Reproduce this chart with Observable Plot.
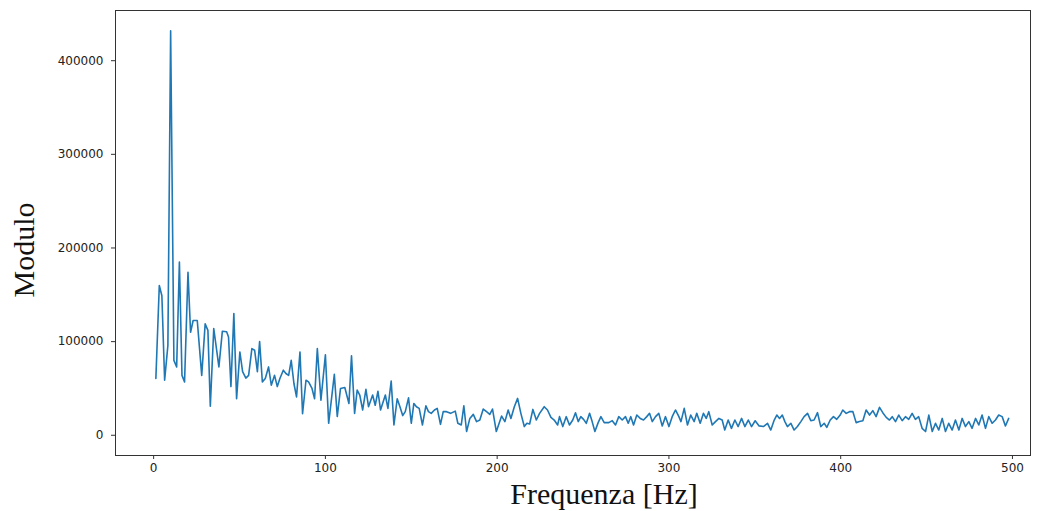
<!DOCTYPE html>
<html>
<head>
<meta charset="utf-8">
<script src="https://cdn.jsdelivr.net/npm/d3@7"></script>
<script src="https://cdn.jsdelivr.net/npm/@observablehq/plot@0.6"></script>
<style>
  html, body { margin: 0; padding: 0; background: #fff; }
  #chart svg { display: block; }
</style>
</head>
<body>
<div id="chart"></div>
<script>
const freq = [1.3,3.3,4.8,6.4,8.3,9.9,11.8,13.4,15,16.5,18,20,21.5,23,25.4,28,30,31.6,33,35,38,40,42.5,43.6,45,46.7,48.3,50.2,51.8,53.7,55.3,57.2,58.8,60.4,61.7,63.3,65,66.9,68.5,70.4,72,73.5,75.5,77,78.6,80.1,81.7,83.2,85.2,86.7,88.7,90.2,92.2,93.7,95.3,97.4,100,101.9,105.2,106.9,108.8,111.3,113.7,115.2,117,118.5,120,121.7,123.6,125.1,127.5,129,130.6,132.1,134.9,136.4,138.3,139.9,141.8,143.4,145,146.5,148.4,150,151.5,153,154.6,156.5,158.5,160,161.6,163.5,165.1,167,168.6,170.5,172.9,175.6,177.1,179.1,180.6,182.2,184.1,186.1,188,189.9,191.9,193.8,195.7,197.3,199.5,202.6,204.5,206.4,208,210,211.9,213.8,215.8,217.3,218.9,220.8,222.8,224.7,227.4,229.3,231.3,233.2,235.2,236.3,238.2,240.2,242.1,244,245.6,247.2,248.7,250.3,251.9,253.8,255.3,256.9,258.8,260.4,262.3,265,267,268.9,270.8,272.8,274.7,276.3,277.8,279.4,281.3,283.3,285.2,287.1,288.7,290.3,292.2,294.1,296.1,298,300,301.9,303.8,305.8,307,308.9,310.8,312.7,314.7,316.2,318.2,320.1,321.7,323.2,325.2,327.1,329.1,331,332.5,334.5,336.4,338.4,340.3,342.3,344.2,346.2,348.1,350.2,352.5,355,357.4,359.3,361.3,362.8,364.4,366,367.5,369,371,372.9,374.8,376.8,378.7,380.7,382.6,384.5,386.5,388.4,390.4,391.9,393.9,395.8,397.7,399.7,401.2,403.2,405.1,407.1,409,410.9,412.9,414.8,416.8,418.7,420.6,422.6,424.5,426.5,428.4,430,431.9,433.8,435.8,437.7,439.6,441.6,443.5,445.4,447.4,449.4,451.3,453.3,455.2,457.1,459.1,461,462.9,464.9,466.8,468.8,470.7,472.6,474.6,476.5,478.5,480.4,482.3,484.3,486.2,488.2,490.1,492,494,495.9,497.8];
const modulo = [60600,160000,149000,58800,96000,432000,80000,73000,185000,64000,57000,174000,110000,122600,122600,64000,119000,112000,31000,114000,73000,111000,110500,105000,52000,130000,39000,89000,68000,61000,64000,92500,90800,68000,100000,57000,60600,73000,53500,64000,52000,60600,69500,66000,64000,80000,55000,41000,89000,23000,58800,57000,50000,39000,92500,37500,86000,12800,65000,20000,50000,51000,34000,84800,23400,48200,43000,27000,49000,30500,43000,32000,47000,27000,43000,28700,57800,11000,39000,30500,21000,25200,40000,12800,34000,30500,28700,11000,31500,25200,23400,27000,28700,11700,25200,25200,23400,25800,12800,11000,31500,4000,18000,22300,14600,16300,28000,25200,22300,28000,4000,20500,14600,27000,18000,30500,39400,23400,9300,12800,12000,27600,16300,23400,30500,27000,19100,16300,11000,19900,9300,19900,11000,16300,24100,14600,19900,17000,12800,23400,14600,4000,13500,19900,13500,13500,15600,11000,19900,16300,19900,12800,19900,11000,21600,18000,16300,19900,23400,14600,19900,23400,9900,19900,9300,19900,27000,19900,14600,28700,11000,21600,14600,23400,12800,23400,18000,25200,11000,14600,18000,16300,5600,16300,7400,16300,9300,18000,9300,16300,9300,15500,10000,9300,12800,5600,16300,21600,18000,21600,14600,9300,12800,5600,9300,14600,19900,23400,15600,16300,24100,9300,12800,8500,16300,19900,17000,21600,27000,23400,25200,25200,13500,14600,15600,27000,21600,26300,19900,29800,24100,19100,16300,19900,14600,21600,15600,19900,17000,23400,17000,19900,7400,4000,21600,4000,12800,5600,18000,4000,12800,5600,16300,5600,18000,9300,14600,7400,18000,11000,21600,7400,19900,12800,16300,21600,19900,9900,18000];
const xTicks = [0, 100, 200, 300, 400, 500];
const yTicks = [0, 100000, 200000, 300000, 400000];
const xLabel = "Frequenza [Hz]";
const yLabel = "Modulo";

const data = freq.map((f, i) => ({f, m: modulo[i]}));

const chart = Plot.plot({
  width: 1043,
  height: 511,
  marginLeft: 115,
  marginRight: 13,
  marginTop: 10,
  marginBottom: 56,
  style: {fontFamily: "DejaVu Sans", fontSize: "12px", color: "#222", background: "#fff"},
  x: {domain: [-22.2, 510.5]},
  y: {domain: [-21600, 453600]},
  marks: [
    Plot.axisX({ticks: xTicks, tickFormat: d => String(d), tickSize: 4, tickPadding: 4, label: null, stroke: "#333", fontSize: 12}),
    Plot.axisY({ticks: yTicks, tickFormat: d => String(d), tickSize: 4, tickPadding: 8, label: null, stroke: "#333", fontSize: 12}),
    Plot.line(data, {x: "f", y: "m", stroke: "#1f77b4", strokeWidth: 1.6, strokeLinejoin: "round"}),
    Plot.frame({stroke: "#333", strokeWidth: 1}),
    Plot.text([xLabel], {frameAnchor: "bottom", text: d => d, lineAnchor: "bottom", textAnchor: "middle", dx: 31, dy: 48, fontSize: 30, fontFamily: "Liberation Serif", fill: "#111"}),
    Plot.text([yLabel], {frameAnchor: "left", text: d => d, rotate: -90, textAnchor: "middle", lineAnchor: "middle", dx: -91, dy: 17, fontSize: 30, fontFamily: "Liberation Serif", fill: "#111"})
  ]
});
document.getElementById("chart").appendChild(chart);
</script>
</body>
</html>
